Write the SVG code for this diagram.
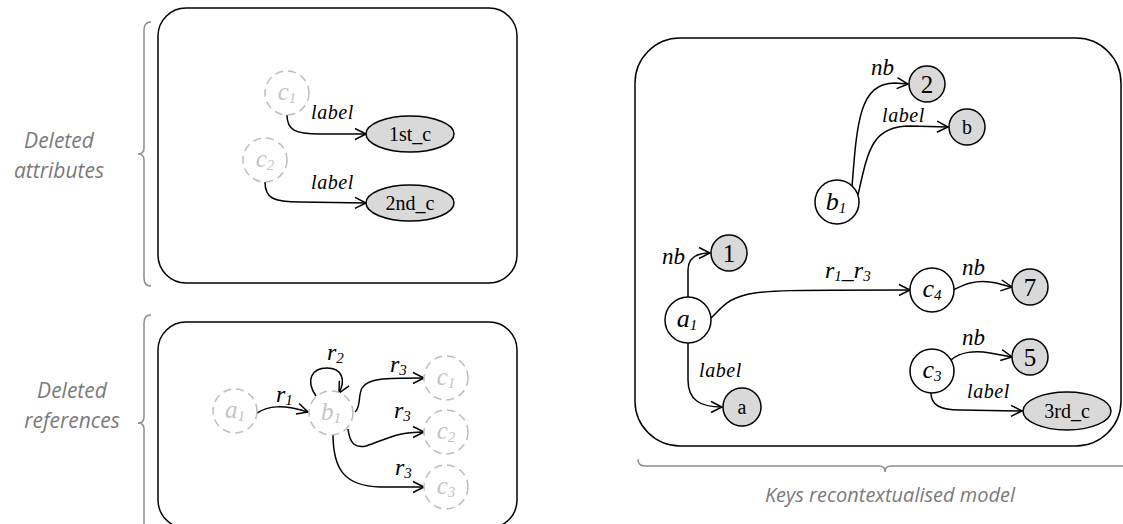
<svg xmlns="http://www.w3.org/2000/svg" width="1123" height="524" viewBox="0 0 1123 524">
<style>
.box{fill:#fff;stroke:#000;stroke-width:1.5}
.brace{fill:none;stroke:#8c8c8c;stroke-width:1.5}
.cap{font-family:"Open Sans",sans-serif;font-style:italic;font-size:21px;fill:#7a7a7a;text-anchor:middle}
.del{fill:#fff;stroke:#bdbdbd;stroke-width:1.5;stroke-dasharray:8 5}
.deltxt{font-family:"Liberation Serif",serif;font-style:italic;font-size:25px;fill:#c4c4c4;text-anchor:middle}
.obj{fill:#fff;stroke:#000;stroke-width:1.5}
.val{fill:#d9d9d9;stroke:#000;stroke-width:1.5}
.vartxt{font-family:"Liberation Serif",serif;font-style:italic;font-size:26px;fill:#000;text-anchor:middle}
.valtxt{font-family:"Liberation Serif",serif;font-size:20px;fill:#000;text-anchor:middle}
.num{font-family:"Liberation Serif",serif;font-size:25px;fill:#000;text-anchor:middle}
.sub{font-size:15px}
.e{fill:none;stroke:#000;stroke-width:1.5;marker-end:url(#arr)}
.lbl{font-family:"Liberation Serif",serif;font-style:italic;font-size:20px;fill:#000;letter-spacing:0.6px}
.nb{font-family:"Liberation Serif",serif;font-style:italic;font-size:23px;fill:#000}
.rl{font-family:"Liberation Serif",serif;font-style:italic;font-size:24px;fill:#000}
</style>
<defs>
<marker id="arr" markerUnits="userSpaceOnUse" markerWidth="14" markerHeight="14" refX="12" refY="7" orient="auto">
<path d="M1,1.5 L12,7 L1,12.5" fill="none" stroke="#000" stroke-width="1.5"/>
</marker>
</defs>

<g id="frames">
<rect class="box" x="158" y="8" width="359" height="275" rx="28"/>
<rect class="box" x="158" y="322" width="359" height="206" rx="28"/>
<rect class="box" x="635" y="38" width="486" height="408" rx="45"/>
</g>

<g id="braces">
<path class="brace" d="M151,22 Q144,22 144,30 L144,148 Q144,154 138,154 Q144,154 144,160 L144,278 Q144,286 151,286"/>
<path class="brace" d="M151,315 Q144,315 144,323 L144,417 Q144,423 138,423 Q144,423 144,429 L144,530"/>
<path class="brace" d="M638,459 Q638,466 645,466 L879,466 Q885,466 885,472 Q885,466 891,466 L1130,466"/>
</g>

<g id="captions">
<text class="cap" x="59" y="148">Deleted</text>
<text class="cap" x="59" y="178">attributes</text>
<text class="cap" x="72" y="398">Deleted</text>
<text class="cap" x="72" y="428">references</text>
<text class="cap" x="890" y="502" style="font-size:20px">Keys recontextualised model</text>
</g>

<g id="connectors">
<path class="e" d="M287,115 C287,130 295,134 320,134 L366,134"/>
<path class="e" d="M265,182 C265,198 273,202 300,202 L366,203"/>

<path class="e" d="M257,413 C268,406 282,404 308,412"/>
<path class="e" d="M316,396 C305,380 312,368 327,368 C342,368 346,380 339,393"/>
<path class="e" d="M355,412 C361,408 358,395 362,388 C368,378 385,378 424,378"/>
<path class="e" d="M348,429 C350,445 356,448 366,446 C385,440 395,432 424,432"/>
<path class="e" d="M333,434 C333,470 345,486 380,487 L424,487"/>

<path class="e" d="M852,187 C857,120 860,83 895,83 L908,84"/>
<path class="e" d="M858,195 C868,150 872,126 910,126 L948,127"/>
<path class="e" d="M688,297 L688,270 C688,258 696,253 710,253"/>
<path class="e" d="M711,318 C720,310 725,300 745,295 C765,290 790,290 910,290"/>
<path class="e" d="M688,343 L688,380 C688,400 700,407 722,407"/>
<path class="e" d="M953,290 C965,284 975,280 990,282 C1000,283 1005,286 1012,287"/>
<path class="e" d="M951,360 C960,352 975,350 990,353 L1012,357"/>
<path class="e" d="M931,393 C931,405 940,410 960,410 L1022,411"/>
</g>

<g id="edge-labels">
<text class="lbl" x="311" y="119">label</text>
<text class="lbl" x="311" y="189">label</text>
<text class="rl" x="276" y="402">r<tspan class="sub" dy="3">1</tspan></text>
<text class="rl" x="327" y="360">r<tspan class="sub" dy="3">2</tspan></text>
<text class="rl" x="390" y="372">r<tspan class="sub" dy="3">3</tspan></text>
<text class="rl" x="394" y="418">r<tspan class="sub" dy="3">3</tspan></text>
<text class="rl" x="395" y="475">r<tspan class="sub" dy="3">3</tspan></text>
<text class="nb" x="871" y="75">nb</text>
<text class="lbl" x="882" y="122">label</text>
<text class="nb" x="662" y="264">nb</text>
<text class="rl" x="825" y="278">r<tspan class="sub" dy="3">1</tspan><tspan dy="-3">_r</tspan><tspan class="sub" dy="3">3</tspan></text>
<text class="lbl" x="699" y="377">label</text>
<text class="nb" x="962" y="275">nb</text>
<text class="nb" x="962" y="345">nb</text>
<text class="lbl" x="967" y="398">label</text>
</g>

<g id="da-c1"><circle class="del" cx="287" cy="93" r="22"/><text class="deltxt" x="287" y="100">c<tspan class="sub" dy="3">1</tspan></text></g>
<g id="da-c2"><circle class="del" cx="265" cy="160" r="22"/><text class="deltxt" x="265" y="167">c<tspan class="sub" dy="3">2</tspan></text></g>
<g id="da-1st"><ellipse class="val" cx="410" cy="134" rx="44" ry="18"/><text class="valtxt" x="410" y="141">1st_c</text></g>
<g id="da-2nd"><ellipse class="val" cx="410" cy="203" rx="44" ry="18"/><text class="valtxt" x="410" y="210">2nd_c</text></g>

<g id="dr-a1"><circle class="del" cx="235" cy="411" r="22"/><text class="deltxt" x="235" y="418">a<tspan class="sub" dy="3">1</tspan></text></g>
<g id="dr-b1"><circle class="del" cx="331" cy="413" r="22"/><text class="deltxt" x="331" y="420">b<tspan class="sub" dy="3">1</tspan></text></g>
<g id="dr-c1"><circle class="del" cx="446" cy="378" r="22"/><text class="deltxt" x="446" y="385">c<tspan class="sub" dy="3">1</tspan></text></g>
<g id="dr-c2"><circle class="del" cx="446" cy="432" r="22"/><text class="deltxt" x="446" y="439">c<tspan class="sub" dy="3">2</tspan></text></g>
<g id="dr-c3"><circle class="del" cx="446" cy="487" r="22"/><text class="deltxt" x="446" y="494">c<tspan class="sub" dy="3">3</tspan></text></g>

<g id="k-b1"><circle class="obj" cx="837" cy="202" r="22"/><text class="vartxt" x="836" y="210">b<tspan class="sub" dy="3">1</tspan></text></g>
<g id="k-2"><circle class="val" cx="927" cy="84" r="18"/><text class="num" x="927" y="93">2</text></g>
<g id="k-b"><circle class="val" cx="967" cy="127" r="18"/><text class="valtxt" x="967" y="134">b</text></g>
<g id="k-1"><circle class="val" cx="729" cy="253" r="18"/><text class="num" x="729" y="262">1</text></g>
<g id="k-a1"><circle class="obj" cx="688" cy="320" r="23"/><text class="vartxt" x="687" y="327">a<tspan class="sub" dy="3">1</tspan></text></g>
<g id="k-a"><circle class="val" cx="742" cy="407" r="19"/><text class="valtxt" x="742" y="414">a</text></g>
<g id="k-c4"><circle class="obj" cx="932" cy="290" r="22"/><text class="vartxt" x="932" y="297">c<tspan class="sub" dy="3">4</tspan></text></g>
<g id="k-7"><circle class="val" cx="1030" cy="287" r="18"/><text class="num" x="1030" y="296">7</text></g>
<g id="k-c3"><circle class="obj" cx="932" cy="371" r="22"/><text class="vartxt" x="932" y="378">c<tspan class="sub" dy="3">3</tspan></text></g>
<g id="k-5"><circle class="val" cx="1030" cy="357" r="18"/><text class="num" x="1030" y="366">5</text></g>
<g id="k-3rd"><ellipse class="val" cx="1067" cy="411" rx="44" ry="19"/><text class="valtxt" x="1067" y="418">3rd_c</text></g>
</svg>
